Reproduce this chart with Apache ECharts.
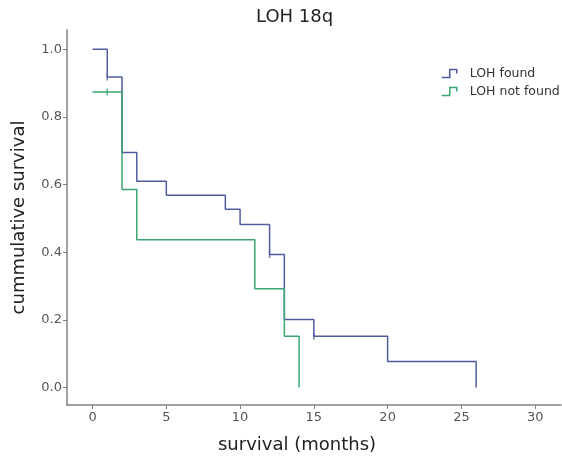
<!DOCTYPE html>
<html>
<head>
<meta charset="utf-8">
<script src="https://cdn.jsdelivr.net/npm/echarts@6/dist/echarts.min.js"></script>
<style>html,body{margin:0;padding:0;background:#fff}#c{width:562px;height:459px}</style>
</head>
<body>
<div id="c"></div>
<script>
const chartTitle = 'LOH 18q';
const seriesNames = ['LOH found', 'LOH not found'];
const foundTimes = [0, 1, 2, 3, 5, 9, 10, 12, 13, 15, 20, 26];
const foundSurv = [1.0, 0.918, 0.695, 0.610, 0.568, 0.527, 0.482, 0.393, 0.201, 0.151, 0.077, 0];
const notFoundTimes = [0, 2, 3, 11, 13, 14];
const notFoundSurv = [0.874, 0.585, 0.437, 0.292, 0.151, 0];
const foundCensorTimes = [1, 12, 15];
const foundCensorSurv = [0.918, 0.393, 0.151];
const notFoundCensorTimes = [1];
const notFoundCensorSurv = [0.874];
const xTicks = [0, 5, 10, 15, 20, 25, 30];
const yTicks = [0, 0.2, 0.4, 0.6, 0.8, 1.0];
const xName = 'survival (months)';
const yName = 'cummulative survival';

const blue = '#505c9f';
const green = '#3aa570';
const zip = (a, b) => a.map((v, i) => [v, b[i]]);
const font = 'DejaVu Sans';
const stepIcon = 'path://M0,8L8,8L8,0L15,0L15,4';

const chart = echarts.init(document.getElementById('c'));
chart.setOption({
  animation: false,
  title: {
    text: chartTitle, left: 256, top: 8, padding: 0,
    textStyle: { fontFamily: font, fontSize: 18, fontWeight: 'normal', color: '#222' }
  },
  legend: {
    orient: 'vertical', left: 441, top: 67, padding: 0,
    itemWidth: 15, itemHeight: 8, itemGap: 5,
    textStyle: { fontFamily: font, fontSize: 12.5, color: '#333', padding: [0, 0, 0, 8] },
    data: [
      { name: seriesNames[0], icon: stepIcon, itemStyle: { color: 'transparent', borderColor: blue, borderWidth: 1.5 } },
      { name: seriesNames[1], icon: stepIcon, itemStyle: { color: 'transparent', borderColor: green, borderWidth: 1.5 } }
    ]
  },
  grid: { left: 67, right: 1, top: 30, bottom: 54, containLabel: false, outerBoundsMode: 'none' },
  xAxis: {
    type: 'value', min: -1.73, max: 31.75,
    name: xName, nameLocation: 'middle', nameGap: 31,
    nameTextStyle: { fontFamily: font, fontSize: 18, color: '#222', padding: [0, 34, 0, 0] },
    axisLine: { onZero: false, lineStyle: { color: '#808080', width: 1.5 } },
    axisTick: { customValues: xTicks, length: 4, lineStyle: { color: '#808080' } },
    axisLabel: { customValues: xTicks, fontFamily: font, fontSize: 13, color: '#555', margin: 6 },
    splitLine: { show: false }
  },
  yAxis: {
    type: 'value', min: -0.052, max: 1.057,
    name: yName, nameLocation: 'middle', nameGap: 39,
    nameTextStyle: { fontFamily: font, fontSize: 18, color: '#222' },
    axisLine: { onZero: false, lineStyle: { color: '#808080', width: 1.5 } },
    axisTick: { customValues: yTicks, length: 4, lineStyle: { color: '#808080' } },
    axisLabel: { customValues: yTicks, fontFamily: font, fontSize: 13, color: '#555', margin: 5,
      formatter: v => v.toFixed(1) },
    splitLine: { show: false }
  },
  series: [
    { name: seriesNames[0], type: 'line', step: 'end', data: zip(foundTimes, foundSurv),
      showSymbol: false, lineStyle: { color: blue, width: 1.5 }, itemStyle: { color: blue } },
    { name: seriesNames[1], type: 'line', step: 'end', data: zip(notFoundTimes, notFoundSurv),
      showSymbol: false, lineStyle: { color: green, width: 1.5 }, itemStyle: { color: green } },
    { name: 'censor found', type: 'scatter', data: zip(foundCensorTimes, foundCensorSurv),
      symbol: 'rect', symbolSize: [1.5, 7], itemStyle: { color: blue } },
    { name: 'censor not found', type: 'scatter', data: zip(notFoundCensorTimes, notFoundCensorSurv),
      symbol: 'rect', symbolSize: [1.5, 7], itemStyle: { color: green } }
  ]
});
</script>
</body>
</html>
